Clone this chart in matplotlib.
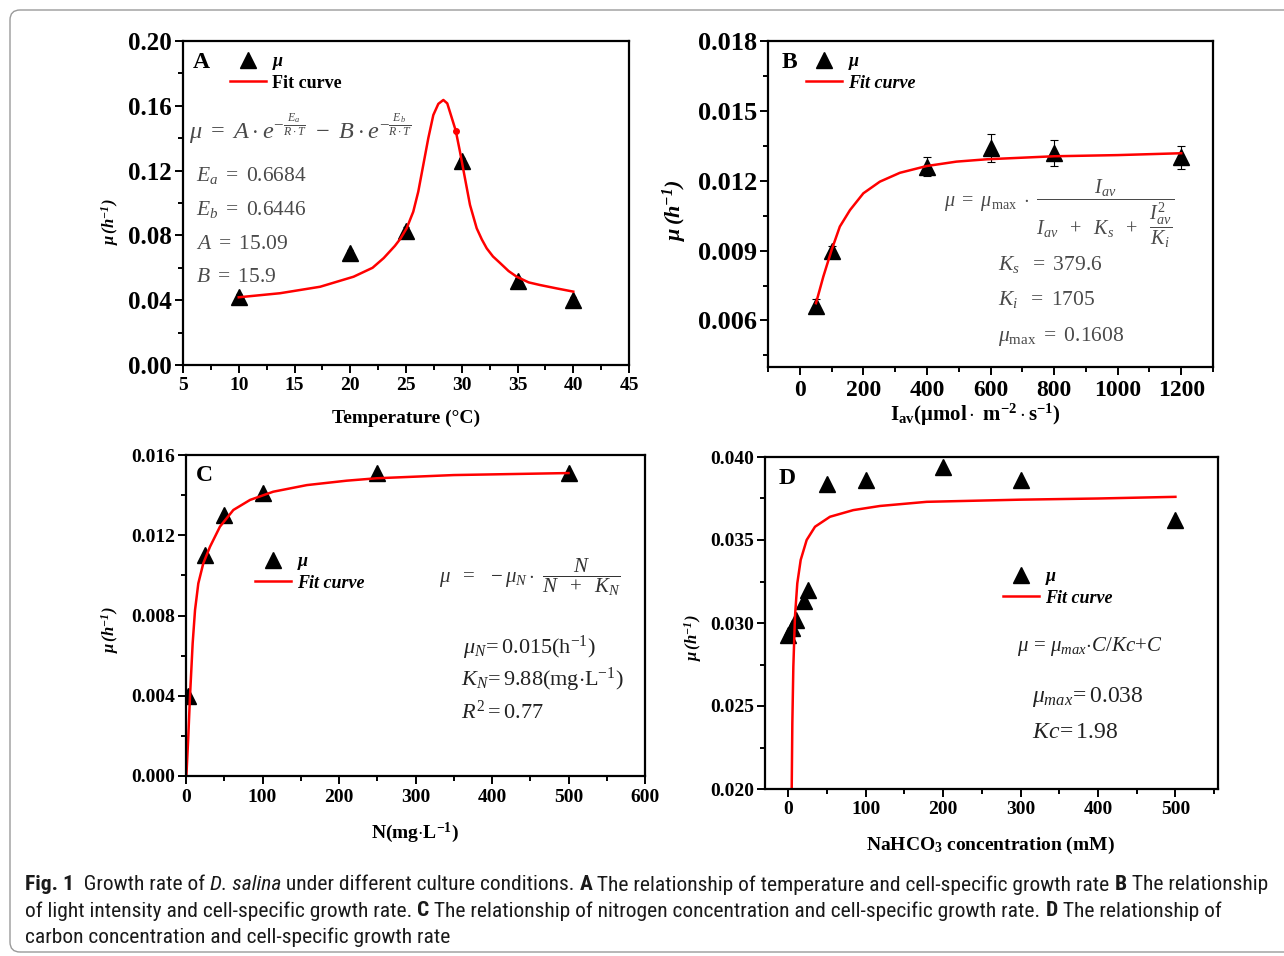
import matplotlib
matplotlib.use('Agg')
import matplotlib.pyplot as plt
from matplotlib import font_manager
from matplotlib.lines import Line2D
from matplotlib.patches import FancyBboxPatch
from matplotlib.transforms import IdentityTransform
from matplotlib.ticker import MultipleLocator, FormatStrFormatter

# ---- data ----
temp = [10, 20, 25, 30, 35, 40]
mu_temp = [0.042, 0.069, 0.083, 0.126, 0.052, 0.040]
err_temp = [0.002, 0.002, 0.002, 0.002, 0.002, 0.002]
fit_temp_x = [10, 13.7, 17.3, 20.3, 22.0, 23.0, 24.0, 24.5, 25.06, 25.65, 26.1, 26.55, 27.0, 27.45, 27.9,
              28.35, 28.7, 28.95, 29.46, 29.84, 30.29, 30.74, 31.34, 31.8, 32.24, 32.8, 33.43, 34.2, 34.93,
              36.0, 37.0, 38.5, 40]
fit_temp_y = [0.0418, 0.0443, 0.0483, 0.0545, 0.060, 0.066, 0.0735, 0.078, 0.0844, 0.0946, 0.107, 0.1235,
              0.140, 0.1543, 0.1612, 0.1636, 0.1615, 0.156, 0.1447, 0.1317, 0.1152, 0.0988, 0.0844, 0.0775,
              0.072, 0.067, 0.063, 0.058, 0.0545, 0.051, 0.0494, 0.0473, 0.0453]

light = [50, 100, 400, 600, 800, 1200]
mu_light = [0.0066, 0.0090, 0.0126, 0.0134, 0.0132, 0.0130]
err_light = [0.0003, 0.0002, 0.0004, 0.0006, 0.00055, 0.0005]
fit_light_x = [51, 74, 100, 126, 158, 200, 252, 315, 399, 493, 588, 800, 1000, 1200]
fit_light_y = [0.00674, 0.00788, 0.00902, 0.01003, 0.01074, 0.01146, 0.01196, 0.01234, 0.01263, 0.01282,
               0.01292, 0.01305, 0.0131, 0.01318]

nitro = [2.5, 25, 50, 100, 250, 500]
mu_nitro = [0.0040, 0.0110, 0.0130, 0.0141, 0.0151, 0.0151]
fit_nitro_x = [0.5, 3.0, 5.2, 8.7, 11.8, 16.1, 22.6, 31.4, 44.4, 61.9, 83.7, 114, 158, 210, 249, 350, 500]
fit_nitro_y = [0.0, 0.00196, 0.00395, 0.00661, 0.00827, 0.0096, 0.0106, 0.01143, 0.01243, 0.01326, 0.01376,
               0.01417, 0.0145, 0.01472, 0.01484, 0.0150, 0.0151]

carbon = [0, 5, 10, 20, 25, 50, 100, 200, 300, 500]
mu_carbon = [0.0293, 0.0297, 0.0302, 0.0313, 0.0320, 0.0384, 0.0386, 0.0394, 0.0386, 0.0362]
fit_carbon_x = [4.4, 4.5, 5.3, 6.6, 8.7, 11.7, 16.1, 23.8, 34.6, 53.9, 84, 118.5, 178.8, 300, 400, 500]
fit_carbon_y = [0.019, 0.02004, 0.02396, 0.02737, 0.03038, 0.03239, 0.0338, 0.035, 0.0358, 0.0364, 0.0368,
                0.03705, 0.0373, 0.03743, 0.0375, 0.0376]

# ---- fonts ----
plt.rcParams['font.family'] = ['Liberation Serif', 'DejaVu Serif']
plt.rcParams['font.weight'] = 'bold'
plt.rcParams['mathtext.fontset'] = 'custom'
plt.rcParams['mathtext.rm'] = 'Liberation Serif:weight=normal'
plt.rcParams['mathtext.it'] = 'Liberation Serif:style=italic:weight=normal'
plt.rcParams['mathtext.bf'] = 'Liberation Serif:weight=bold'
plt.rcParams['mathtext.bfit'] = 'Liberation Serif:style=italic:weight=bold'

W, H = 1284, 956
fig = plt.figure(figsize=(W / 100, H / 100), dpi=100)


def box(l, t, r, b):
    return [l / W, 1 - b / H, (r - l) / W, (b - t) / H]


def ftxt(x, y, s, **kw):
    kw.setdefault('va', 'center')
    return fig.text(x / W, 1 - y / H, s, **kw)


def style(ax, xlim, ylim, xmaj, xmin, ymaj, ymin, yfmt, xfs, yfs):
    ax.set_xlim(*xlim)
    ax.set_ylim(*ylim)
    ax.xaxis.set_major_locator(MultipleLocator(xmaj))
    ax.xaxis.set_minor_locator(MultipleLocator(xmin))
    ax.yaxis.set_major_locator(MultipleLocator(ymaj))
    ax.yaxis.set_minor_locator(MultipleLocator(ymin))
    ax.yaxis.set_major_formatter(FormatStrFormatter(yfmt))
    ax.tick_params(which='both', direction='out', width=1.4, colors='black')
    ax.tick_params(which='major', length=6)
    ax.tick_params(which='minor', length=3.5)
    ax.tick_params(axis='x', labelsize=xfs, pad=3)
    ax.tick_params(axis='y', labelsize=yfs, pad=2)
    for sp in ax.spines.values():
        sp.set_linewidth(1.6)


def legend(ax, x, y, fs, italic_fit):
    h = [Line2D([], [], marker='^', ls='none', color='black', ms=11),
         Line2D([], [], color='red', lw=1.8)]
    leg = ax.legend(h, [r'$\mathbfit{\mu}$', 'Fit curve'], loc='upper left',
                    bbox_to_anchor=(x / W, 1 - y / H), bbox_transform=fig.transFigure,
                    frameon=False, fontsize=fs, handlelength=2.0, handletextpad=0.35,
                    labelspacing=0.15, borderpad=0, borderaxespad=0)
    if italic_fit:
        leg.get_texts()[1].set_style('italic')
    return leg


tri = dict(marker='^', ls='none', color='black', ms=11)
eq_grey = '#4a4a4a'

# ---- A: temperature ----
axA = fig.add_axes(box(183, 41, 629, 365))
axA.errorbar(temp, mu_temp, yerr=err_temp, fmt='none', ecolor='black', elinewidth=0.8, capsize=2)
axA.plot(temp, mu_temp, **tri)
axA.plot(fit_temp_x, fit_temp_y, color='red', lw=1.8)
axA.plot([29.46], [0.1447], 'o', color='red', ms=4)
style(axA, (5, 45), (0, 0.20), 5, 2.5, 0.04, 0.02, '%.2f', 14, 18)
legend(axA, 230, 53, 13, False)
ftxt(201, 63, 'A', fontsize=17, ha='center')
ftxt(406, 418, 'Temperature (°C)', fontsize=14, ha='center')
ftxt(110, 222, r'$\mathbfit{\mu\,(h^{-1})}$', fontsize=12, ha='center', rotation=90)
ftxt(189, 129, r'$\mu\ =\ A\cdot e^{-\frac{E_a}{R\cdot T}}\ -\ B\cdot e^{-\frac{E_b}{R\cdot T}}$',
     fontsize=17.5, color=eq_grey)
ftxt(196, 175, r'$E_a\ =\ 0.6684$', fontsize=15.5, color=eq_grey)
ftxt(196, 209, r'$E_b\ =\ 0.6446$', fontsize=15.5, color=eq_grey)
ftxt(196, 244, r'$A\ =\ 15.09$', fontsize=15.5, color=eq_grey)
ftxt(196, 277, r'$B\ =\ 15.9$', fontsize=15.5, color=eq_grey)

# ---- B: light ----
axB = fig.add_axes(box(768, 41, 1213, 367))
axB.errorbar(light, mu_light, yerr=err_light, fmt='none', ecolor='black', elinewidth=0.8,
             capsize=3, capthick=0.8)
axB.plot(light, mu_light, **tri)
axB.plot(fit_light_x, fit_light_y, color='red', lw=1.8)
style(axB, (-100, 1300), (0.004, 0.018), 200, 100, 0.003, 0.0015, '%.3f', 17, 19)
legend(axB, 806, 53, 13, True)
ftxt(789, 63, 'B', fontsize=17, ha='center')
ftxt(975, 415, r'$\mathbf{I_{av}(\mu mol\cdot\ m^{-2}\cdot s^{-1})}$', fontsize=15, ha='center')
ftxt(675, 210, r'$\mathbfit{\mu\,(h^{-1})}$', fontsize=16, ha='center', rotation=90)
ftxt(944, 214,
     r'$\mu\ =\ \mu_{\max}\ \cdot\ \dfrac{I_{av}}{I_{av}\ \ +\ \ K_s\ \ +\ \ \dfrac{I_{av}^2}{K_i}}$',
     fontsize=14.5, color=eq_grey)
ftxt(998, 265, r'$K_s\ \ =\ 379.6$', fontsize=15.5, color=eq_grey)
ftxt(998, 300, r'$K_i\ \ =\ 1705$', fontsize=15.5, color=eq_grey)
ftxt(998, 336, r'$\mu_{\max}\ =\ 0.1608$', fontsize=15.5, color=eq_grey)

# ---- C: nitrogen ----
axC = fig.add_axes(box(186, 455, 645, 776))
axC.plot(nitro, mu_nitro, **tri)
axC.plot(fit_nitro_x, fit_nitro_y, color='red', lw=1.8)
style(axC, (0, 600), (0, 0.016), 100, 50, 0.004, 0.002, '%.3f', 14, 14)
legend(axC, 255, 553, 13, True)
ftxt(204, 475, 'C', fontsize=17, ha='center')
ftxt(415, 833, r'$\mathbf{N(mg{\cdot}L^{-1})}$', fontsize=14, ha='center')
ftxt(110, 630, r'$\mathbfit{\mu\,(h^{-1})}$', fontsize=12, ha='center', rotation=90)
ftxt(439, 577, r'$\mu\ \ =\ \ -\mu_N\cdot\ \dfrac{N}{N\ \ +\ \ K_N}$', fontsize=15, color='#333333')
ftxt(463, 648, r'$\mu_N\!=0.015(\mathrm{h}^{-1})$', fontsize=16, color='#222222')
ftxt(461, 680, r'$K_N\!=9.88(\mathrm{mg{\cdot}L}^{-1})$', fontsize=16, color='#222222')
ftxt(461, 712, r'$R^2 = 0.77$', fontsize=16, color='#222222')

# ---- D: carbon ----
axD = fig.add_axes(box(765, 457, 1218, 789))
axD.plot(carbon, mu_carbon, **tri)
axD.plot(fit_carbon_x, fit_carbon_y, color='red', lw=1.8)
style(axD, (-30, 555), (0.020, 0.040), 100, 50, 0.005, 0.0025, '%.3f', 14, 14)
legend(axD, 1003, 568, 13, True)
ftxt(787, 478, 'D', fontsize=17, ha='center')
ftxt(990, 845, r'$\mathbf{NaHCO_3\ concentration\ (mM)}$', fontsize=14, ha='center')
ftxt(693, 638, r'$\mathbfit{\mu\,(h^{-1})}$', fontsize=12, ha='center', rotation=90)
ftxt(1017, 647, r'$\mu\,=\,\mu_{max}{\cdot}C/Kc{+}C$', fontsize=15, color='#222222')
ftxt(1032, 697, r'$\mu_{max}\!=0.038$', fontsize=17, color='#222222')
ftxt(1032, 732, r'$Kc\!=1.98$', fontsize=17, color='#222222')

# ---- frame and caption ----
fig.patches.append(FancyBboxPatch((10, 4), 1300, 942, boxstyle='round,pad=0,rounding_size=10',
                                  transform=IdentityTransform(), fill=False, ec='#9a9a9a', lw=1.0))

installed = {f.name for f in font_manager.fontManager.ttflist}
cap_font = [f for f in ['Liberation Sans Narrow', 'Noto Sans Condensed', 'Roboto Condensed',
                        'Open Sans Condensed', 'Liberation Sans'] if f in installed][:1] + ['DejaVu Sans']

caption = [
    [('Fig. 1', 'bold', 'normal'), ('  Growth rate of ', 'normal', 'normal'), ('D. salina', 'normal', 'italic'),
     (' under different culture conditions. ', 'normal', 'normal'), ('A', 'bold', 'normal'),
     (' The relationship of temperature and cell-specific growth rate ', 'normal', 'normal'),
     ('B', 'bold', 'normal'), (' The relationship', 'normal', 'normal')],
    [('of light intensity and cell-specific growth rate. ', 'normal', 'normal'), ('C', 'bold', 'normal'),
     (' The relationship of nitrogen concentration and cell-specific growth rate. ', 'normal', 'normal'),
     ('D', 'bold', 'normal'), (' The relationship of', 'normal', 'normal')],
    [('carbon concentration and cell-specific growth rate', 'normal', 'normal')],
]
renderer = fig.canvas.get_renderer()


def draw_line(line, y, size):
    x = 25
    for s, wt, st in line:
        t = ftxt(x, y, s, fontsize=size, family=cap_font, weight=wt, style=st, color='#1a1a1a')
        x += t.get_window_extent(renderer).width
    return x


# fit the first line to the reference width
probe = [ftxt(0, 0, s, fontsize=14, family=cap_font, weight=wt, style=st) for s, wt, st in caption[0]]
total = sum(t.get_window_extent(renderer).width for t in probe)
for t in probe:
    t.remove()
cap_size = 14 * (1273 - 25) / total

for i, line in enumerate(caption):
    draw_line(line, 885 + 26 * i, cap_size)

fig.savefig('out.png', dpi=100)
